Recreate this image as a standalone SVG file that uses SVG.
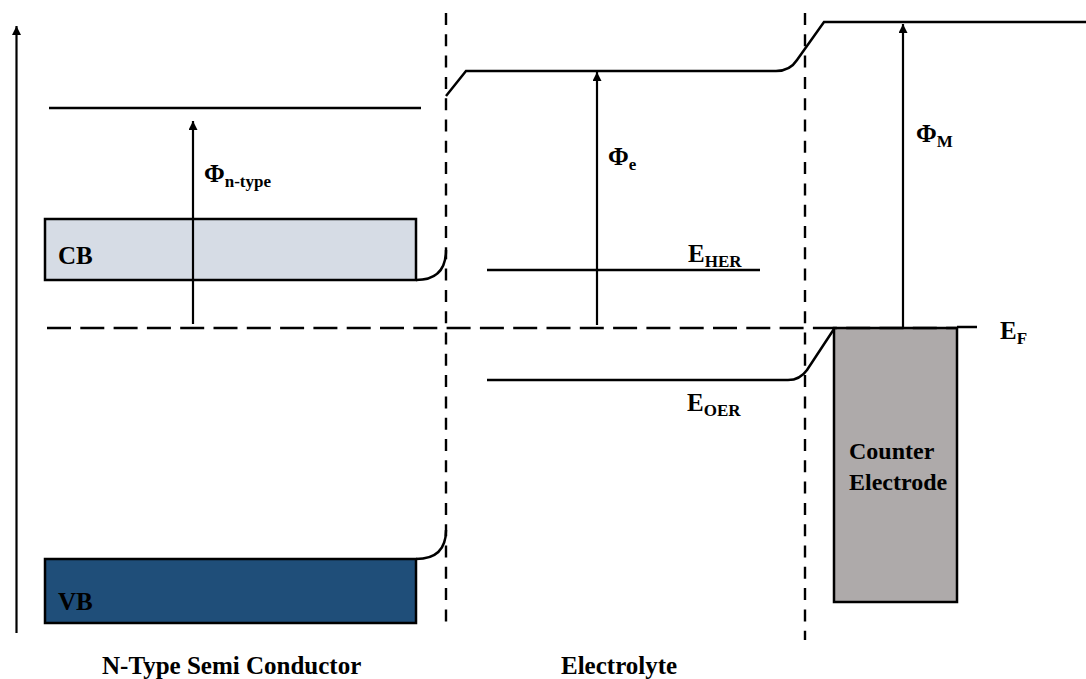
<svg xmlns="http://www.w3.org/2000/svg" width="1086" height="679" viewBox="0 0 1086 679">
<defs>
<marker id="ah" viewBox="0 0 10 10" refX="10" refY="5" markerWidth="9" markerHeight="9" markerUnits="userSpaceOnUse" orient="auto">
<path d="M0,0 L10,5 L0,10 z" fill="#000"/>
</marker>
<style>
.s{stroke:#000;stroke-width:2.5;fill:none}
.a{stroke:#000;stroke-width:2.2;fill:none;marker-end:url(#ah)}
.dh{stroke:#000;stroke-width:2.6;fill:none;stroke-dasharray:24 9.3}
.dv{stroke:#000;stroke-width:2.4;fill:none;stroke-dasharray:12 9.3}
text{font-family:'Liberation Serif','DejaVu Serif',serif;font-weight:bold;fill:#000}
.b{font-size:25px}
.sub{font-size:17px}
</style>
</defs>
<rect width="1086" height="679" fill="#fff"/>

<g id="axis">
<line class="a" x1="16.5" y1="633" x2="16.5" y2="26"/>
</g>

<g id="semiconductor">
<line class="s" x1="49" y1="108" x2="421" y2="108"/>
<rect id="cb" x="45" y="219" width="371" height="61" fill="#d6dce5" stroke="#000" stroke-width="2.5"/>
<text class="b" x="58" y="264">CB</text>
<rect id="vb" x="45" y="559" width="371" height="64" fill="#1f4e79" stroke="#000" stroke-width="2.5"/>
<text class="b" x="58" y="610">VB</text>
<text class="b" x="102" y="674">N-Type Semi Conductor</text>
</g>

<g id="electrolyte">
<line class="s" x1="487" y1="270" x2="760" y2="270"/>
<text class="b" x="561" y="674">Electrolyte</text>
</g>

<g id="counter-electrode">
<rect x="834" y="328" width="123" height="274" fill="#aeaaaa" stroke="#000" stroke-width="2.5"/>
<text font-size="24" x="849" y="459">Counter</text>
<text font-size="24" x="849" y="490">Electrode</text>
</g>

<g id="connectors">
<line class="dv" x1="446" y1="13" x2="446" y2="623"/>
<line class="dv" x1="805" y1="13" x2="805" y2="640"/>
<line class="dh" x1="47" y1="328" x2="957" y2="328"/>
<line class="s" x1="957" y1="327" x2="977" y2="327"/>
<path class="s" d="M416 280 Q446 280 446 250"/>
<path class="s" d="M416 559 Q446 559 446 530"/>
<path class="s" d="M446 96 L466 71 L776 71 Q790 71 797 60 L824 22 L1086 22"/>
<path class="s" d="M487 380 L788 380 Q800 380 807 370 L834 329"/>
<line class="a" x1="193" y1="324" x2="193" y2="121"/>
<line class="a" x1="597" y1="325" x2="597" y2="72"/>
<line class="a" x1="903" y1="327" x2="903" y2="24"/>
</g>

<g id="labels">
<text class="b" x="204" y="182">Φ<tspan class="sub" dy="5">n-type</tspan></text>
<text class="b" x="608" y="165">Φ<tspan class="sub" dy="5">e</tspan></text>
<text class="b" x="916" y="142">Φ<tspan class="sub" dy="5">M</tspan></text>
<text class="b" x="688" y="262">E<tspan class="sub" dy="5">HER</tspan></text>
<text class="b" x="687" y="411">E<tspan class="sub" dy="5">OER</tspan></text>
<text class="b" x="1000" y="339">E<tspan class="sub" dy="5">F</tspan></text>
</g>
</svg>
